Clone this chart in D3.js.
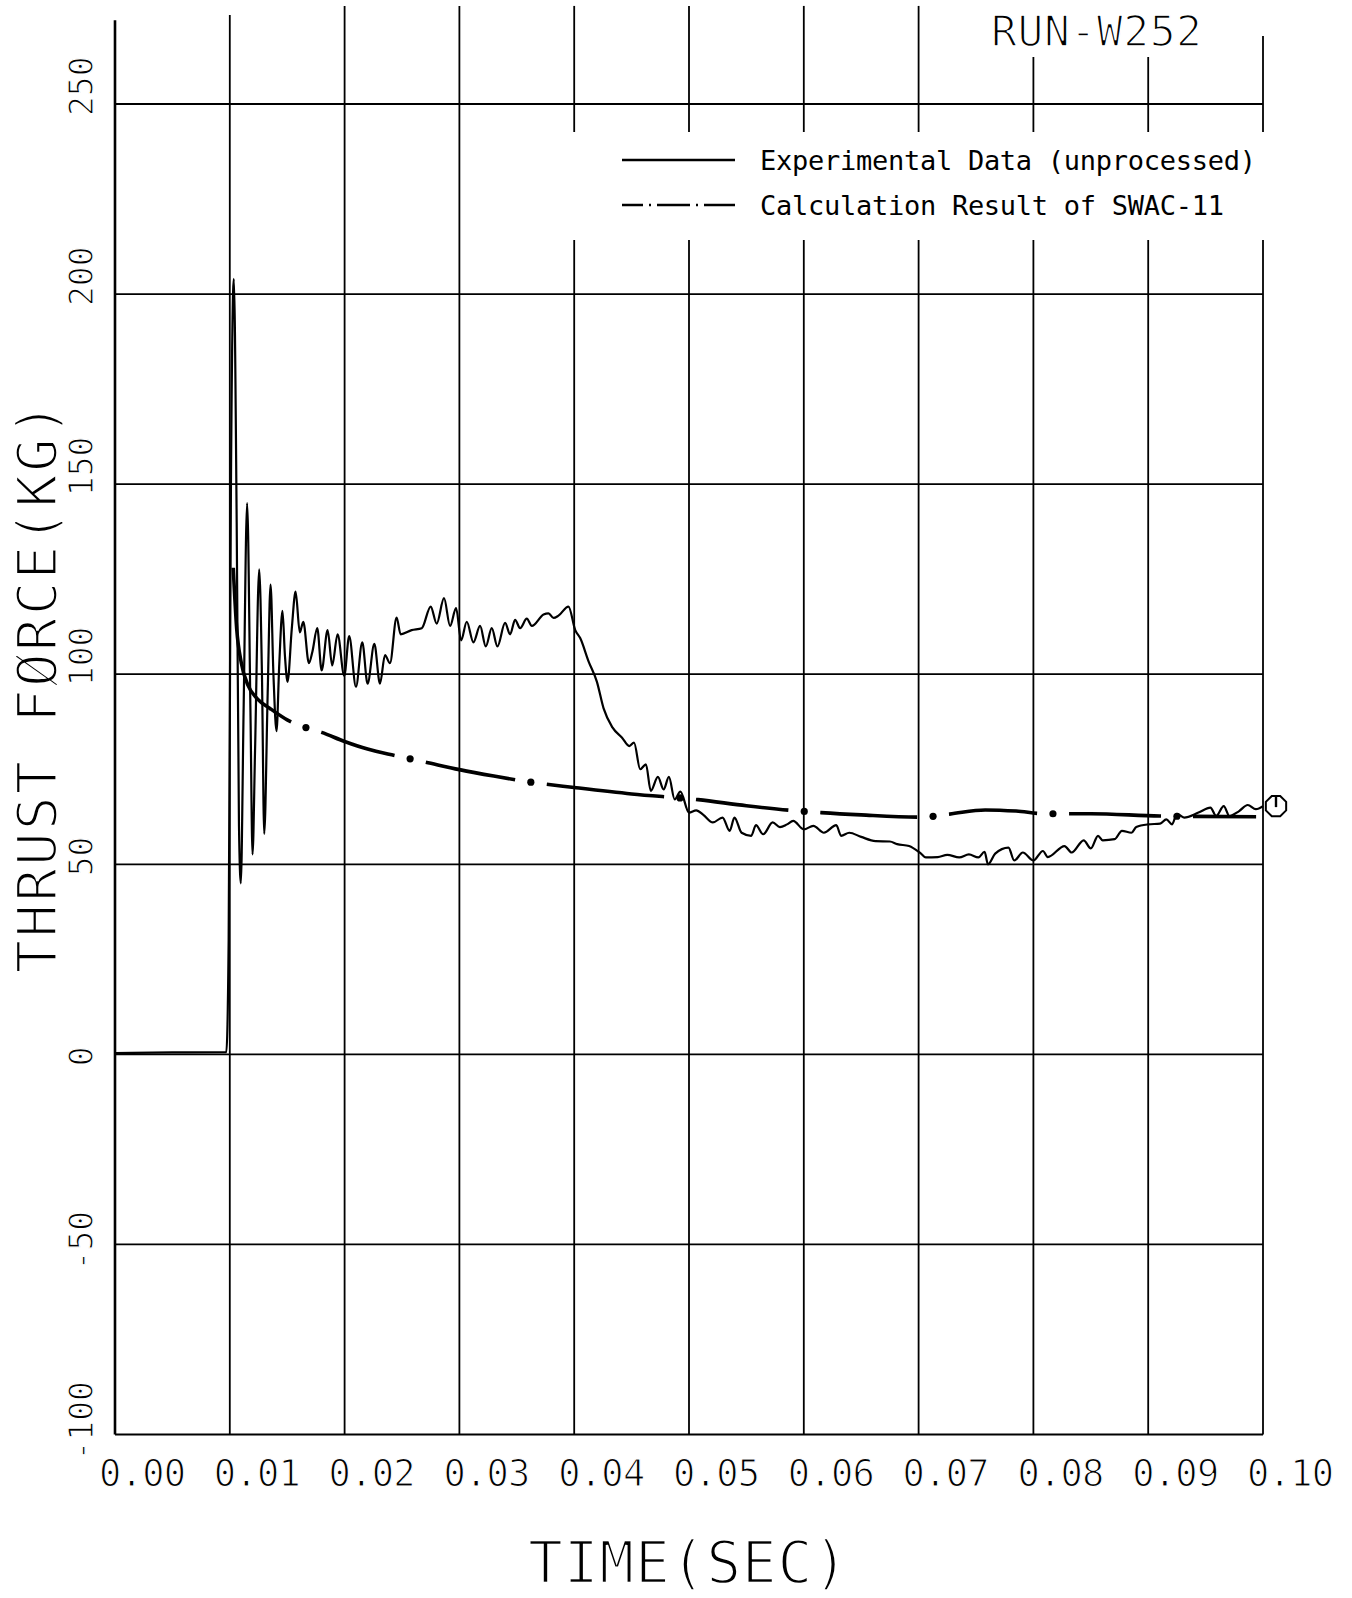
<!DOCTYPE html>
<html>
<head>
<meta charset="utf-8">
<script src="https://cdn.jsdelivr.net/npm/d3@7"></script>
<style>
  body { margin: 0; background: #fff; }
  svg text { font-family: "DejaVu Sans Mono", monospace; fill: #000; }
  .thin { stroke: #fff; paint-order: normal; }
</style>
</head>
<body>
<div id="thrust"></div>
<script>
// thrust force record, run W252

var xTicks = [0, 0.01, 0.02, 0.03, 0.04, 0.05, 0.06, 0.07, 0.08, 0.09, 0.10];
var yTicks = [-100, -50, 0, 50, 100, 150, 200, 250];

var seriesNames = ["Experimental Data (unprocessed)", "Calculation Result of SWAC-11"];

// measured trace (sec, kg)
var expTime = [
  0, 0.0050, 0.0097, 0.0099, 0.0101, 0.01035, 0.0106, 0.0108, 0.01096, 0.0112,
  0.01151, 0.0118, 0.01198, 0.0122, 0.01256, 0.0128, 0.0130, 0.0133, 0.01355, 0.0138,
  0.01407, 0.0143, 0.01459, 0.0148, 0.01503, 0.0154, 0.01573, 0.0161, 0.0164, 0.01689,
  0.0172, 0.01762, 0.0180, 0.01852, 0.01892, 0.01939, 0.01997, 0.0204, 0.02099, 0.02154,
  0.0220, 0.02259, 0.02308, 0.02352, 0.02395, 0.02453, 0.02488, 0.02584, 0.02672, 0.0275,
  0.02802, 0.02866, 0.02919, 0.02971, 0.03015, 0.03064, 0.03122, 0.0318, 0.0323, 0.03282,
  0.03331, 0.03398, 0.03442, 0.03485, 0.03529, 0.03587, 0.03631, 0.03733, 0.03776, 0.0382,
  0.03863, 0.0395, 0.04009, 0.04052, 0.04125, 0.04198, 0.04256, 0.04333, 0.04417, 0.0448,
  0.04521, 0.04575, 0.04625, 0.04667, 0.04729, 0.04779, 0.04825, 0.04875, 0.04925, 0.0500,
  0.05063, 0.05125, 0.05208, 0.05292, 0.05354, 0.05396, 0.05458, 0.05542, 0.05583, 0.05646,
  0.05729, 0.05792, 0.05854, 0.05908, 0.0600, 0.06083, 0.06175, 0.06283, 0.06325, 0.06396,
  0.0650, 0.06625, 0.0675, 0.06813, 0.06917, 0.07021, 0.07063, 0.07167, 0.0725, 0.07354,
  0.07438, 0.07521, 0.07575, 0.07604, 0.07667, 0.07783, 0.07833, 0.07908, 0.0800, 0.08083,
  0.08125, 0.08271, 0.08333, 0.08438, 0.0850, 0.08563, 0.08604, 0.08708, 0.08771, 0.08854,
  0.08896, 0.0900, 0.09104, 0.09158, 0.09208, 0.0925, 0.09313, 0.09438, 0.09542, 0.09592,
  0.09658, 0.09708, 0.09792, 0.09867, 0.09938, 0.1000
];
var expForce = [
  0.3, 0.5, 0.6, 30, 150, 204, 140, 60, 45, 90,
  145, 90, 52.6, 80, 127.6, 100, 58, 95, 123.6, 100,
  85, 102, 116.7, 105, 98, 112, 121.7, 111, 113.8, 102.9,
  106, 112.1, 101, 111.6, 102.3, 110.5, 99.6, 110, 96.7, 108.4,
  97.5, 108, 97.5, 105, 102.9, 114.9, 110.5, 111.6, 112.1, 117.8,
  113.3, 120, 112.7, 117.4, 108.9, 113.8, 108.4, 112.7, 107.3, 112.1,
  107.3, 113.5, 110.5, 114.3, 112.1, 114.6, 112.7, 115.7, 116, 114.8,
  115.4, 117.8, 111.6, 109.5, 103.4, 98, 91, 86, 83.3, 81.1,
  82, 75, 76.3, 69.3, 73, 69.7, 73, 67.1, 69.1, 63.6,
  64.2, 63, 61, 62.3, 58.8, 62.3, 58.3, 57.5, 60.3, 57.9,
  61, 59.8, 60.5, 61.4, 59.2, 60.1, 58.3, 60.3, 57.5, 58.3,
  57.2, 56.1, 56, 55.3, 54.8, 52.8, 51.8, 51.9, 52.5, 51.8,
  52.6, 51.8, 53.3, 50, 52.8, 54.4, 51, 53.1, 51, 53.5,
  51.9, 54.8, 53.1, 56.3, 54.2, 57.5, 56.3, 56.6, 58.8, 58.3,
  59.8, 60.5, 60.7, 61.8, 60.5, 63.3, 62.3, 63.6, 64.9, 62.7,
  65.3, 62.7, 64, 65.6, 64.5, 65.3
];

// SWAC-11 result (sec, kg)
var calcTime = [
  0.0103, 0.0106, 0.0110, 0.0116, 0.0124, 0.0135, 0.0150, 0.0166, 0.0180, 0.0200,
  0.0220, 0.0244, 0.0270, 0.0300, 0.0330, 0.0362, 0.0400, 0.0450, 0.0508, 0.0550,
  0.0588, 0.0615, 0.0650, 0.0702, 0.0727, 0.0758, 0.0785, 0.0810, 0.0850, 0.0910,
  0.0994
];
var calcForce = [
  128, 112, 103, 97, 93.5, 91, 88, 86, 84.7, 82.3,
  80.3, 78.6, 76.9, 74.9, 73.2, 71.6, 70.2, 68.5, 67, 65.4,
  64.2, 63.6, 63, 62.4, 63.2, 64.3, 64, 63.3, 63.3, 62.7,
  62.5
];
// where the chain line puts its dots
var calcDotTime = [0.0166, 0.0257, 0.0362, 0.0492, 0.0600, 0.07125, 0.0817, 0.0925];

var width = 1352, height = 1598;

var svg = d3.select("#thrust").append("svg")
    .attr("width", width)
    .attr("height", height);

var x = d3.scaleLinear().domain([0, 0.1]).range([115, 1263]);
var y = d3.scaleLinear().domain([-100, 250]).range([1434.5, 104]);

/* grid */
var grid = svg.append("g").attr("stroke", "#000").attr("fill", "none");

grid.selectAll("line.h")
    .data(yTicks)
    .enter()
    .append("line")
    .attr("class", "h")
    .attr("x1", x(0))
    .attr("x2", x(0.1))
    .attr("y1", function(d) { return y(d); })
    .attr("y2", function(d) { return y(d); })
    .attr("stroke-width", 1.8);

// vertical lines run past the 250 line, and stop around the legend and run label
var vSegs = [];
xTicks.forEach(function(t, i) {
    var px = x(t);
    var top = y(275.8);
    if (i == 0) top = y(272);
    if (i == 1) top = y(273.4);
    if (px > 980 && px < 1215) top = 57;
    if (i == xTicks.length - 1) top = 36;
    var bottom = y(-100);
    if (px > 560) {
        vSegs.push({x: px, y1: top, y2: 132, i: i});
        vSegs.push({x: px, y1: 240, y2: bottom, i: i});
    } else {
        vSegs.push({x: px, y1: top, y2: bottom, i: i});
    }
});

grid.selectAll("line.v")
    .data(vSegs)
    .enter()
    .append("line")
    .attr("class", "v")
    .attr("x1", function(d) { return d.x; })
    .attr("x2", function(d) { return d.x; })
    .attr("y1", function(d) { return d.y1; })
    .attr("y2", function(d) { return d.y2; })
    .attr("stroke-width", function(d) { return d.i == 0 ? 2.6 : 1.8; });

/* tick labels */
svg.selectAll("text.xlab")
    .data(xTicks)
    .enter()
    .append("text")
    .attr("class", "xlab thin")
    .attr("x", function(d) { return x(d) - 16; })
    .attr("y", 1486)
    .attr("stroke-width", 1.2)
    .style("font-size", "37px")
    .attr("textLength", 87)
    .text(function(d) { return d3.format(".2f")(d); });

svg.selectAll("text.ylab")
    .data(yTicks)
    .enter()
    .append("text")
    .attr("class", "ylab thin")
    .attr("transform", function(d) {
        var off = d < 0 ? 26 : 12;
        return "translate(93," + (y(d) + off) + ") rotate(-90)";
    })
    .attr("stroke-width", 1.2)
    .style("font-size", "33px")
    .text(function(d) { return d; });

/* axis titles */
svg.append("text")
    .attr("class", "thin")
    .attr("x", 688)
    .attr("y", 1583)
    .attr("text-anchor", "middle")
    .attr("stroke-width", 2.3)
    .attr("textLength", 320)
    .style("font-size", "58px")
    .text("TIME(SEC)");

svg.append("text")
    .attr("class", "thin")
    .attr("transform", "translate(56,688) rotate(-90)")
    .attr("text-anchor", "middle")
    .attr("stroke-width", 2.3)
    .attr("textLength", 571)
    .style("font-size", "56px")
    .text("THRUST FØRCE(KG)");

svg.append("text")
    .attr("class", "thin")
    .attr("x", 991)
    .attr("y", 46)
    .attr("stroke-width", 1.6)
    .attr("textLength", 211)
    .style("font-size", "43px")
    .text("RUN-W252");

/* legend */
var legend = svg.append("g");
var legendY = [160, 205];

legend.append("line")
    .attr("x1", 622).attr("x2", 735)
    .attr("y1", legendY[0]).attr("y2", legendY[0])
    .attr("stroke", "#000").attr("stroke-width", 2.4);

legend.append("line")
    .attr("x1", 622).attr("x2", 735)
    .attr("y1", legendY[1]).attr("y2", legendY[1])
    .attr("stroke", "#000").attr("stroke-width", 2.4)
    .attr("stroke-dasharray", "21 6 2 6 33 6 2 6 32");

legend.selectAll("text")
    .data(seriesNames)
    .enter()
    .append("text")
    .attr("x", 760)
    .attr("y", function(d, i) { return legendY[i] + 10; })
    .attr("textLength", function(d) { return d.length * 16; })
    .style("font-size", "27px")
    .text(function(d) { return d; });

/* curves */
var expData = expTime.map(function(t, i) { return {t: t, f: expForce[i]}; });
var calcData = calcTime.map(function(t, i) { return {t: t, f: calcForce[i]}; });

var line = d3.line()
    .x(function(d) { return x(d.t); })
    .y(function(d) { return y(d.f); })
    .curve(d3.curveMonotoneX);

svg.append("path")
    .datum(expData)
    .attr("d", line)
    .attr("fill", "none")
    .attr("stroke", "#000")
    .attr("stroke-width", 2.2)
    .attr("stroke-linejoin", "round");

var calcPath = svg.append("path")
    .datum(calcData)
    .attr("d", line)
    .attr("fill", "none")
    .attr("stroke", "#000")
    .attr("stroke-width", 3.6);

// chain-line: long dashes broken around each dot
var node = calcPath.node();
var total = node.getTotalLength();
var samples = [];
for (var s = 0; s <= total; s += 0.5) {
    samples.push({s: s, p: node.getPointAtLength(s)});
}
var dotLen = calcDotTime.map(function(t) {
    var px = x(t);
    for (var k = 0; k < samples.length; k++) {
        if (samples[k].p.x >= px) return samples[k].s;
    }
    return total;
});

var halfGap = 16;
var dash = [];
var prev = 0;
dotLen.forEach(function(s) {
    dash.push(Math.max(0, s - halfGap - prev), 2 * halfGap);
    prev = s + halfGap;
});
dash.push(total - prev, total);
calcPath.attr("stroke-dasharray", dash.join(" "));

svg.selectAll("circle.dot")
    .data(dotLen)
    .enter()
    .append("circle")
    .attr("class", "dot")
    .attr("cx", function(d) { return node.getPointAtLength(d).x; })
    .attr("cy", function(d) { return node.getPointAtLength(d).y; })
    .attr("r", 3.6)
    .attr("fill", "#000");

/* end-of-record marker */
var last = expData[expData.length - 1];
var mx = x(last.t) + 13, my = y(last.f), mr = 11;
var octo = d3.range(8).map(function(k) {
    var a = Math.PI / 8 + k * Math.PI / 4;
    return [mx + mr * Math.cos(a), my + mr * Math.sin(a)];
});
svg.append("path")
    .attr("d", "M" + octo.join("L") + "Z")
    .attr("fill", "none")
    .attr("stroke", "#000")
    .attr("stroke-width", 2);
svg.append("line")
    .attr("x1", mx).attr("x2", mx)
    .attr("y1", my - mr).attr("y2", my + 1)
    .attr("stroke", "#000")
    .attr("stroke-width", 2.4);
</script>
</body>
</html>
